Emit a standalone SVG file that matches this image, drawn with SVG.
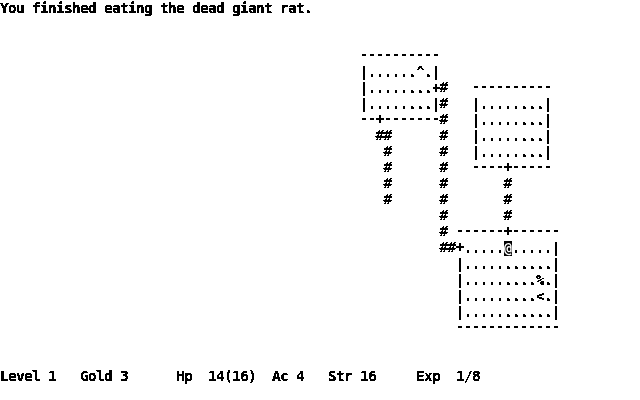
<svg xmlns="http://www.w3.org/2000/svg" width="640" height="400" viewBox="0 0 640 400">
<style>
text{font-family:"DejaVu Sans Mono","Liberation Mono",monospace;font-size:13.33px;font-weight:bold;fill:#000;white-space:pre}
.big{font-size:14.5px;letter-spacing:-0.73px}
.inv{fill:#fff}
</style>
<defs>
<filter id="crisp" filterUnits="userSpaceOnUse" x="0" y="0" width="640" height="400" color-interpolation-filters="sRGB">
<feComponentTransfer><feFuncA type="discrete" tableValues="0 1 1"/></feComponentTransfer>
</filter>
</defs>
<rect width="640" height="400" fill="#fff"/>
<g filter="url(#crisp)">
<g id="message"><text class="big" x="0" y="13" xml:space="preserve">You finished eating the dead giant rat.</text></g>
<g id="room-north-west">
<text x="360" y="59" xml:space="preserve">----------</text>
<text x="360" y="77" xml:space="preserve">|......^.|</text>
<text x="360" y="93" xml:space="preserve">|........+</text>
<text x="360" y="109" xml:space="preserve">|........|</text>
<text x="360" y="123" xml:space="preserve">--</text><text x="376" y="124">+</text><text x="384" y="123" xml:space="preserve">-------</text>
</g>
<g id="room-north-east">
<text x="472" y="91" xml:space="preserve">----------</text>
<text x="472" y="109" xml:space="preserve">|........|</text>
<text x="472" y="125" xml:space="preserve">|........|</text>
<text x="472" y="141" xml:space="preserve">|........|</text>
<text x="472" y="157" xml:space="preserve">|........|</text>
<text x="472" y="171" xml:space="preserve">----</text><text x="504" y="172">+</text><text x="512" y="171" xml:space="preserve">-----</text>
</g>
<g id="room-south-east">
<text x="456" y="235" xml:space="preserve">------</text><text x="504" y="236">+</text><text x="512" y="235" xml:space="preserve">------</text>
<text x="456" y="252" xml:space="preserve">+</text><text x="464" y="253" xml:space="preserve">.....</text><text x="512" y="253" xml:space="preserve">.....|</text>
<text x="456" y="269" xml:space="preserve">|...........|</text>
<text x="456" y="285" xml:space="preserve">|.........%.|</text>
<text x="456" y="301" xml:space="preserve">|.........&lt;.|</text>
<text x="456" y="317" xml:space="preserve">|...........|</text>
<text x="456" y="331" xml:space="preserve">-------------</text>
</g>
<g id="connectors">
<text class="big" x="439.6" y="92">#</text>
<text class="big" x="439.6" y="108">#</text>
<text class="big" x="439.6" y="124">#</text>
<text class="big" x="439.6" y="140">#</text>
<text class="big" x="439.6" y="156">#</text>
<text class="big" x="439.6" y="172">#</text>
<text class="big" x="439.6" y="188">#</text>
<text class="big" x="439.6" y="204">#</text>
<text class="big" x="439.6" y="220">#</text>
<text class="big" x="439.6" y="236">#</text>
<text class="big" x="439.6" y="252">##</text>
<text class="big" x="375.6" y="140">##</text>
<text class="big" x="383.6" y="156">#</text>
<text class="big" x="383.6" y="172">#</text>
<text class="big" x="383.6" y="188">#</text>
<text class="big" x="383.6" y="204">#</text>
<text class="big" x="503.6" y="188">#</text>
<text class="big" x="503.6" y="204">#</text>
<text class="big" x="503.6" y="220">#</text>
</g>
<g id="status"><text class="big" x="0" y="381" xml:space="preserve">Level 1   Gold 3      Hp  14(16)  Ac 4   Str 16     Exp  1/8</text></g>
</g>
<g id="player" filter="url(#crisp)">
<rect x="504" y="241" width="8" height="15" fill="#000"/>
<text class="inv" x="504" y="253">@</text>
</g>
</svg>
